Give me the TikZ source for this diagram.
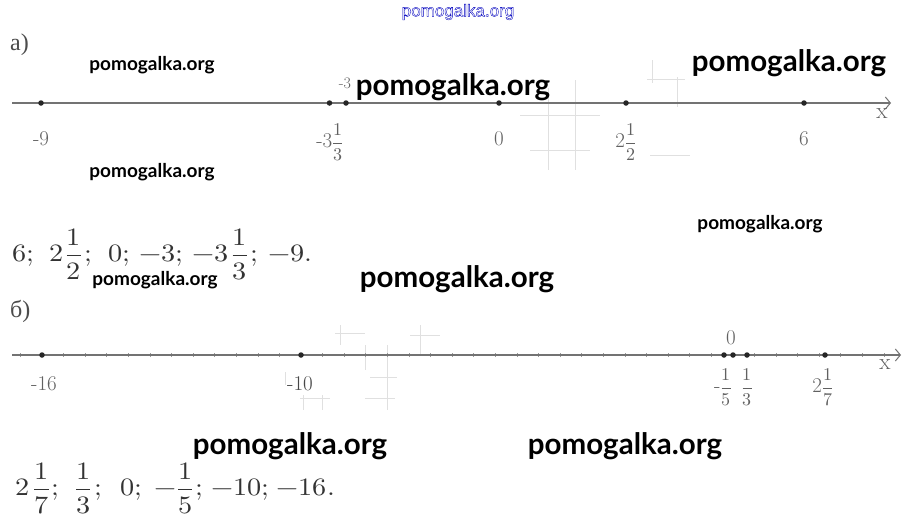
\documentclass[tikz,border=0pt]{standalone}
\usepackage{graphicx}
\usepackage{fontspec}
\usepackage{amsmath}
\usepackage{unicode-math}
\setmathfont{Latin Modern Math}
\usetikzlibrary{arrows.meta}
\newfontfamily\wmfont{Lato}
\newfontfamily\bluefont{Liberation Sans}
\newfontfamily\cyrfont{Liberation Serif}
\newcommand\lfr[2]{{\fontsize{18}{20}\selectfont$\dfrac{#1}{#2}$}}
\newcommand\hs[1]{\hspace{#1pt}}
\begin{document}
\begin{tikzpicture}[x=1pt,y=-1pt,
  dot/.style={circle,fill=black!85,inner sep=0pt,minimum size=5.5pt},
  axisline/.style={draw=black!55,line width=1.2pt,-{Straight Barb[length=5pt,width=12pt,line width=1pt]}},
  lab/.style={text=black!62,font=\fontsize{21}{24}\selectfont,inner sep=0pt},
  wms/.style={font=\wmfont\bfseries\fontsize{19}{22}\selectfont,text=black,inner sep=0pt},
  wmb/.style={font=\wmfont\bfseries\fontsize{29.5}{34}\selectfont,text=black,inner sep=0pt},
  ans/.style={text=black!80,font=\fontsize{25}{30}\selectfont,inner sep=0pt,anchor=west},
  part/.style={text=black!70,font=\cyrfont\fontsize{24}{28}\selectfont,inner sep=0pt,anchor=west},
  ghost/.style={draw=black!12,line width=0.8pt},
  tick/.style={draw=black!40,line width=0.6pt}]
\useasboundingbox (0,0) rectangle (915,531);
\fill[white] (0,0) rectangle (915,531);

% faint background marks
\draw[ghost] (652,60) -- (652,83) (647,79) -- (685,79) (677,77) -- (677,107) (673,103) -- (693,103);
\draw[ghost] (575,80) -- (575,170) (520,115) -- (600,115) (548,88) -- (548,170) (530,150) -- (590,150) (650,155) -- (690,155);
\draw[ghost] (340,325) -- (340,345) (335,333) -- (365,333) (365,345) -- (365,370) (355,355) -- (390,355) (387,345) -- (387,410) (370,377) -- (397,377) (365,398) -- (395,398) (420,325) -- (420,355) (410,335) -- (440,335) (415,355) -- (442,355);
\draw[ghost] (285,372) -- (285,385) (300,398) -- (330,398) (303,395) -- (303,410) (322,395) -- (322,410);

% blue top watermark
\node[inner sep=0pt,text=blue!75!black,font=\bluefont\fontsize{17}{20}\selectfont] (wtop) at (458,12) {\special{pdf:literal direct 1 Tr 0.35 w}pomogalka.org\special{pdf:literal direct 0 Tr}};

% part a
\node[part] (pa) at (10,45) {а)};
\coordinate (a0) at (12,103);
\coordinate (a1) at (891,103);
\draw[axisline] (a0) -- (a1);
\node[dot] (am9) at (41,103) {};
\node[dot] (am3t) at (329.5,103) {};
\node[dot] (am3) at (346,103) {};
\node[dot] (a0p) at (499,103) {};
\node[dot] (a25) at (626,103) {};
\node[dot] (a6) at (804,103) {};
\node[lab] (lm9) at (41,139) {-9};
\node[lab] (lm3t) at (330,142) {-3\lfr{1}{3}};
\node[lab,font=\fontsize{16}{18}\selectfont] (lm3) at (345,83) {-3};
\node[lab] (l0) at (499,139) {0};
\node[lab] (l25) at (626,142) {2\lfr{1}{2}};
\node[lab] (l6) at (804,139) {6};
\node[lab,font=\fontsize{23}{26}\selectfont] (lxa) at (882,114) {x};

\node[ans] (ansa) at (12,254) {\scalebox{1.13}[1]{$6;\hs{9}2\hs{2}\dfrac{1}{2}\hs{2};\hs{10}0;\hs{4}-3;\hs{4}-3\hs{2}\dfrac{1}{3}\hs{2};\hs{5}-9.$}};

% part b
\node[part] (pb) at (10,311) {б)};
\coordinate (b0) at (12,355);
\coordinate (b1) at (901,355);
\foreach \k in {-1,...,39} {\draw[tick] ({42+21.585*\k},353) -- ({42+21.585*\k},357);}
\draw[axisline] (b0) -- (b1);
\node[dot] (bm16) at (42,355) {};
\node[dot] (bm10) at (301,355) {};
\node[dot] (bm15) at (724,355) {};
\node[dot] (b0p) at (733,355) {};
\node[dot] (b13) at (747,355) {};
\node[dot] (b217) at (825,355) {};
\node[lab] (lm16) at (44,384) {-16};
\node[lab,text=black!72] (lm10) at (300,384) {-10};
\node[lab] (lb0) at (731,338) {0};
\node[lab] (lm15) at (723,387) {-\lfr{1}{5}};
\node[lab] (l13) at (747,387) {\lfr{1}{3}};
\node[lab] (l217) at (823,387) {2\lfr{1}{7}};
\node[lab,font=\fontsize{23}{26}\selectfont] (lxb) at (885,365) {x};

\node[ans] (ansb) at (15,488) {\scalebox{1.13}[1]{$2\hs{3}\dfrac{1}{7}\hs{1};\hs{10}\dfrac{1}{3}\hs{2};\hs{12}0;\hs{7}-\dfrac{1}{5}\hs{2};\hs{3}-10;\hs{2}-16.$}};

% watermarks
\node[wms] (w1) at (152,65) {pomogalka.org};
\node[wmb] (w2) at (453,87) {pomogalka.org};
\node[wmb] (w3) at (789,63) {pomogalka.org};
\node[wms] (w4) at (152,172) {pomogalka.org};
\node[wms] (w5) at (760,224) {pomogalka.org};
\node[wms] (w6) at (155,280) {pomogalka.org};
\node[wmb] (w7) at (457,279) {pomogalka.org};
\node[wmb] (w8) at (290,446) {pomogalka.org};
\node[wmb] (w9) at (625,446) {pomogalka.org};
\end{tikzpicture}
\end{document}
